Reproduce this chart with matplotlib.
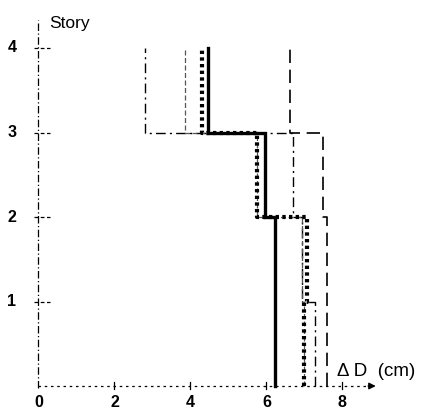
import matplotlib
matplotlib.use("Agg")
import matplotlib.pyplot as plt

# ---- data -------------------------------------------------------------
stories = [1, 2, 3, 4]
story_labels = ["1", "2", "3", "4"]
x_ticks = [0, 2, 4, 6, 8]
x_tick_labels = ["0", "2", "4", "6", "8"]

drift_solid = [6.23, 6.23, 5.96, 4.46]
drift_dotted = [7.0, 7.07, 5.76, 4.3]
drift_dashdot = [7.28, 6.94, 6.7, 2.8]
drift_dashed = [7.6, 7.6, 7.49, 6.63]
drift_thin = [7.0, 6.94, 5.76, 3.86]


def step_profile(vals):
    xs, ys = [], []
    for s, v in zip(stories, vals):
        xs += [v, v]
        ys += [s - 1, s]
    return xs, ys


plt.rcParams["font.family"] = ["Liberation Sans", "DejaVu Sans"]

fig = plt.figure(figsize=(4.34, 4.15), dpi=100)
ax = fig.add_axes([0, 0, 1, 1])
ax.set_xlim(-1.013, 10.41)
ax.set_ylim(-0.343, 4.568)
ax.axis("off")

# axes drawn as in the scan
ax.plot([0, 0], [-0.02, 4.33], color="black", lw=0.9, ls=(0, (6, 2, 1, 2)))
ax.plot([0, 8.8], [0, 0], color="black", lw=0.9, ls=(0, (2, 3)))
ax.annotate("", xy=(8.95, 0), xytext=(8.6, 0),
            arrowprops=dict(arrowstyle="-|>", color="black", lw=0.9,
                            mutation_scale=10))

for s, lab in zip(stories, story_labels):
    ax.plot([-0.13, 0.3], [s, s], color="black", lw=0.9, ls=(0, (3, 2)))
    ax.text(-0.70, s, lab, ha="center", va="center", fontsize=11.5,
            fontweight="bold")
for xt, lab in zip(x_ticks, x_tick_labels):
    if xt:
        ax.plot([xt, xt], [-0.04, 0.05], color="black", lw=0.9)
    ax.text(xt, -0.19, lab, ha="center", va="center", fontsize=11.5,
            fontweight="bold")

ax.text(0.28, 4.237, "Story", ha="left", va="baseline", fontsize=12.5)
ax.text(7.85, 0.118, "Δ D  (cm)", ha="left", va="baseline", fontsize=13.5)

# ---- series -------------------------------------------------------------
xs, ys = step_profile(drift_dashed)
ax.plot(xs, ys, color="black", lw=1.2, ls=(0, (8, 4)))
xs, ys = step_profile(drift_dashdot)
ax.plot(xs, ys, color="black", lw=1.0, ls=(0, (7, 3, 1.5, 3)))
xs, ys = step_profile(drift_thin)
ax.plot(xs, ys, color="#555555", lw=0.9, ls=(0, (4, 2)))
xs, ys = step_profile(drift_dotted)
ax.plot(xs, ys, color="black", lw=3.0, ls=(0, (0.8, 0.8)))
xs, ys = step_profile(drift_solid)
ax.plot(xs, ys, color="black", lw=2.4, solid_joinstyle="miter")

fig.savefig("out.png", dpi=100)
